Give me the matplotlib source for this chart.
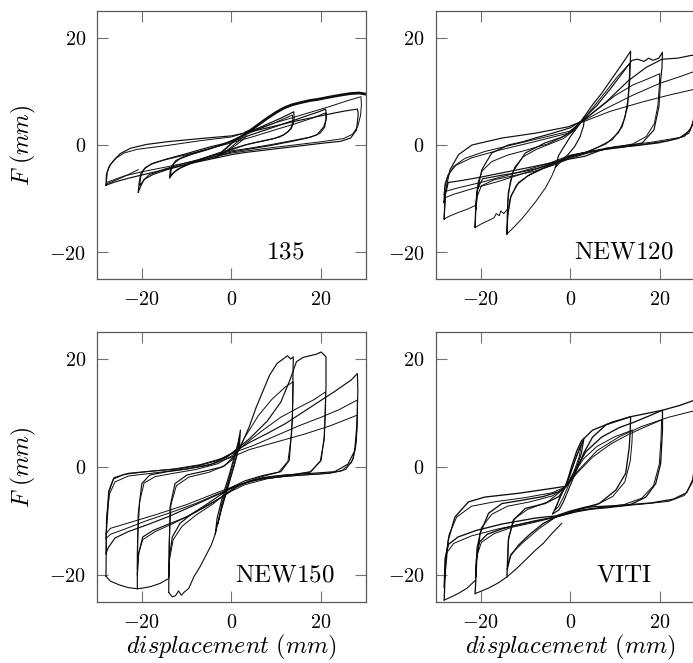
import matplotlib
matplotlib.use('Agg')
import matplotlib.pyplot as plt

plt.rcParams['mathtext.fontset'] = 'cm'
plt.rcParams['font.family'] = 'serif'
plt.rcParams['font.serif'] = ['DejaVu Serif']

# --- 135 ---
s135_small_x = [-3.5, -2.6, -1.2, 0.4, 1.8, 3.0, 3.3, 2.6, 1.2, -0.4, -1.9, -3.0, -3.5]
s135_small_y = [-2.3, -1.6, -0.7, 0.5, 1.4, 2.1, 1.7, 1.0, 0.1, -0.8, -1.6, -2.1, -2.3]
s135_small2_x = [-3.0, -2.0, -0.5, 1.0, 2.5, 3.0, 2.2, 0.8, -0.8, -2.2, -3.0]
s135_small2_y = [-2.0, -1.1, 0.0, 1.0, 1.9, 2.0, 1.2, 0.2, -0.9, -1.7, -2.0]
s135_env_x = [3.2, 4.2, 6.0, 8.0, 10.0, 11.7, 13.5, 15.4, 17.5, 19.2, 21.0, 22.9, 25.0, 26.6, 28.5, 29.9]
s135_env_y = [2.3, 2.7, 3.8, 5.0, 6.1, 6.9, 7.5, 7.9, 8.3, 8.5, 8.8, 9.1, 9.4, 9.6, 9.7, 9.5]
s135_neg_x = [-20.8, -22.5, -24.5, -26.5, -28.0]
s135_neg_y = [-4.6, -5.3, -6.1, -6.8, -7.3]
s135_c14_x = [-13.8, -13.7, -13.3, -12.4, -10.5, -7.0, -3.0, 0.0, 4.2, 8.0, 11.0, 13.2, 13.9,
              14.0, 13.8, 13.3, 11.7, 9.5, 6.0, 3.0, 0.0, -3.5, -6.9, -9.5, -11.4, -12.8, -13.8]
s135_c14_y = [-6.1, -5.0, -3.9, -2.9, -2.1, -1.2, -0.2, 0.8, 2.5, 3.9, 5.0, 5.9, 6.2,
              5.2, 4.0, 3.0, 1.9, 1.2, 0.6, 0.0, -0.9, -1.8, -2.7, -3.6, -4.3, -5.1, -6.1]
s135_c14b_x = [-13.6, -13.4, -12.8, -11.5, -9.0, -5.0, -1.5, 1.5, 5.0, 9.0, 12.0, 13.6,
               13.7, 13.4, 12.6, 10.8, 8.0, 4.0, 0.5, -3.0, -6.5, -9.5, -12.0, -13.6]
s135_c14b_y = [-5.6, -4.4, -3.4, -2.6, -1.8, -0.8, 0.2, 1.3, 2.6, 3.9, 5.0, 5.6,
               4.6, 3.4, 2.4, 1.5, 0.9, 0.2, -0.6, -1.5, -2.5, -3.4, -4.5, -5.6]
s135_c21_x = [-20.8, -20.6, -20.2, -19.2, -17.5, -14.4, -10.0, -5.0, 0.0, 4.0, 9.0, 13.9, 17.0, 19.5, 21.0,
              21.2, 21.2, 20.6, 19.1, 16.9, 13.0, 8.0, 3.0, 0.0, -5.0, -10.0, -14.4, -17.5, -19.5, -20.2, -20.8]
s135_c21_y = [-8.8, -7.0, -5.3, -4.2, -3.4, -2.6, -1.6, -0.4, 0.6, 1.8, 3.2, 4.6, 5.5, 6.2, 6.7,
              5.8, 5.0, 3.4, 1.9, 1.3, 0.6, -0.2, -0.9, -1.3, -2.5, -3.6, -4.6, -5.5, -6.4, -7.6, -8.8]
s135_c21b_x = [-20.5, -20.2, -19.5, -18.0, -15.0, -10.0, -5.0, 0.0, 5.0, 10.0, 14.0, 18.0, 21.0,
               21.1, 20.8, 19.8, 17.8, 14.0, 9.0, 4.0, 0.0, -5.0, -10.0, -15.0, -18.5, -20.5]
s135_c21b_y = [-7.5, -5.8, -4.5, -3.6, -2.8, -1.8, -0.7, 0.4, 1.6, 2.9, 3.9, 5.0, 6.0,
               4.6, 3.3, 2.2, 1.5, 0.9, 0.1, -0.6, -1.1, -2.2, -3.3, -4.5, -5.6, -7.5]
s135_c28_x = [-28.0, -27.9, -27.3, -26.2, -24.8, -22.5, -19.0, -14.4, -7.0, 0.0, 5.0, 10.0, 14.0, 18.0, 22.0, 25.0, 28.1,
              28.3, 28.2, 27.9, 26.6, 24.4, 20.0, 14.0, 8.0, 3.0, 0.0, -5.0, -10.0, -14.4, -19.0, -23.0, -26.0, -28.0]
s135_c28_y = [-7.5, -5.5, -4.0, -2.8, -1.6, -0.6, 0.1, 0.6, 1.2, 1.7, 2.6, 3.6, 4.4, 5.1, 5.8, 6.3, 6.7,
              5.8, 5.0, 2.8, 1.3, 0.7, 0.3, -0.3, -0.9, -1.4, -1.8, -2.7, -3.6, -4.5, -5.4, -6.2, -6.9, -7.5]
s135_c28b_x = [-27.9, -27.7, -27.0, -25.8, -24.0, -21.0, -14.4, -7.0, 0.0, 5.0, 10.0, 14.0, 18.0, 22.0, 26.0, 28.9,
               29.0, 28.8, 28.2, 27.0, 25.0, 20.0, 14.0, 7.0, 0.0, -7.0, -14.0, -20.0, -24.0, -27.9]
s135_c28b_y = [-7.0, -5.0, -3.6, -2.5, -1.5, -0.8, -0.1, 0.8, 1.5, 2.8, 4.2, 5.2, 6.2, 7.2, 8.3, 9.0,
               7.5, 5.5, 3.5, 2.0, 1.2, 0.6, 0.0, -0.7, -1.5, -2.8, -4.0, -5.0, -5.8, -7.0]

# --- NEW120 ---
n120_small_x = [-3.3, -2.6, -1.5, 0.0, 1.5, 2.5, 3.2, 3.0, 2.2, 1.0, -0.5, -2.0, -3.3]
n120_small_y = [-4.2, -2.0, -0.5, 1.5, 3.2, 4.4, 5.3, 3.6, 1.5, -0.3, -1.8, -3.0, -4.2]
n120_env_x = [-3.3, -4.1, -5.5, -7.8, -10.5, -12.5, -14.1]
n120_env_y = [-4.2, -5.8, -8.0, -10.7, -13.5, -15.3, -16.6]
n120_env2_x = [-14.0, -14.8, -15.5, -15.8, -16.5, -17.0, -18.5, -20.0, -21.2]
n120_env2_y = [-12.0, -12.8, -12.3, -13.2, -12.8, -13.6, -14.2, -14.8, -15.4]
n120_env3_x = [-21.2, -23.0, -25.0, -27.0, -28.1]
n120_env3_y = [-11.3, -12.0, -12.6, -13.3, -13.8]
n120_c14_x = [-14.1, -14.0, -13.8, -12.7, -10.0, -5.6, -2.0, 0.5, 2.4, 5.0, 7.0, 9.5, 11.5, 13.5,
              13.4, 13.3, 12.8, 11.6, 9.4, 6.5, 3.0, 0.0, -3.2, -6.0, -9.0, -11.5, -13.2, -13.9, -14.1]
n120_c14_y = [-16.6, -12.6, -8.9, -4.9, -1.5, 0.4, 1.4, 2.6, 4.4, 7.5, 9.6, 12.6, 15.0, 17.5,
              14.5, 12.1, 7.1, 3.4, 1.0, -0.3, -1.6, -2.3, -3.3, -4.3, -5.5, -7.0, -9.5, -13.0, -16.6]
n120_c14b_x = [-14.0, -13.9, -13.4, -12.4, -10.5, -7.5, -4.5, -1.5, 1.0, 2.6, 5.5, 8.0, 10.5, 13.3,
               13.2, 12.9, 12.2, 10.8, 8.0, 4.0, 0.0, -3.2, -6.5, -9.5, -12.0, -13.4, -14.0]
n120_c14b_y = [-13.5, -10.5, -7.0, -4.2, -2.2, -0.8, 0.2, 1.2, 2.8, 4.4, 7.4, 10.0, 12.7, 15.2,
               12.5, 8.5, 5.0, 2.3, 0.2, -1.2, -2.2, -3.4, -4.6, -5.8, -7.5, -10.0, -13.5]
n120_c21_x = [-21.2, -21.1, -20.8, -19.7, -17.5, -13.8, -10.6, -7.8, -3.9, 0.0, 2.4, 6.0, 9.0, 12.0,
              13.8, 15.0, 16.5, 17.5, 18.5, 19.8, 20.6,
              20.5, 20.2, 19.8, 18.7, 16.1, 12.0, 8.0, 4.0, 0.0, -3.2, -7.0, -10.6, -15.0, -19.5, -20.6, -21.0, -21.2]
n120_c21_y = [-15.4, -12.0, -8.9, -4.6, -1.5, 0.0, 0.6, 1.3, 2.2, 3.2, 4.4, 7.4, 10.5, 13.8,
              15.8, 16.0, 15.6, 16.2, 15.8, 16.2, 17.3,
              14.5, 12.1, 7.1, 2.8, 0.4, -0.4, -0.8, -1.3, -2.0, -3.3, -4.3, -5.0, -5.6, -6.3, -8.0, -11.0, -15.4]
n120_c21b_x = [-21.0, -20.9, -20.5, -19.6, -17.5, -14.0, -10.0, -5.0, -1.0, 2.4, 6.0, 10.0, 14.0, 17.5, 20.0,
               19.9, 19.6, 18.8, 17.0, 14.0, 9.0, 4.0, 0.0, -3.5, -8.0, -13.0, -17.0, -19.8, -20.7, -21.0]
n120_c21b_y = [-12.0, -9.3, -6.8, -4.8, -3.1, -1.9, -1.0, 0.2, 1.8, 4.2, 6.6, 9.2, 11.2, 12.4, 13.3,
               11.0, 7.5, 4.0, 1.6, 0.2, -0.6, -1.5, -2.5, -3.7, -4.9, -5.8, -6.5, -7.6, -9.5, -12.0]
n120_c28_x = [-28.1, -27.9, -26.8, -24.9, -21.9, -15.2, -7.8, -0.4, 2.6, 8.0, 13.0, 17.0, 20.5, 24.0, 26.9, 28.3,
              28.3, 28.2, 27.8, 26.5, 24.0, 19.8, 14.0, 8.0, 3.3, 0.0, -4.1, -8.0, -15.2, -20.0, -24.0, -27.2, -27.9, -28.1]
n120_c28_y = [-13.8, -8.9, -4.6, -1.8, 0.0, 1.3, 2.2, 3.4, 4.4, 8.0, 12.0, 14.5, 16.0, 16.2, 16.7, 16.8,
              14.0, 10.0, 5.0, 2.2, 1.2, 0.4, -0.2, -0.6, -2.1, -2.6, -3.3, -4.0, -5.2, -6.0, -6.6, -7.0, -9.5, -13.8]
n120_c28b_x = [-28.2, -28.0, -27.4, -26.0, -23.5, -19.0, -14.0, -7.0, 0.0, 2.5, 8.0, 14.0, 20.0, 25.0, 28.3,
               28.3, 28.0, 27.2, 25.5, 22.0, 16.0, 10.0, 4.0, 0.0, -4.0, -10.0, -16.0, -22.0, -26.0, -27.8, -28.2]
n120_c28b_y = [-10.7, -8.0, -6.0, -4.0, -2.5, -1.2, -0.2, 1.2, 2.6, 4.3, 6.8, 9.3, 11.5, 12.9, 13.9,
               11.0, 7.0, 3.5, 1.6, 0.8, 0.1, -0.5, -1.3, -2.1, -3.4, -5.2, -6.8, -8.2, -9.2, -9.8, -10.7]
n120_c28c_x = [-28.1, -27.9, -27.2, -25.5, -22.0, -16.0, -8.0, 0.0, 2.5, 9.0, 16.0, 22.0, 28.3,
               28.2, 27.8, 26.8, 24.5, 18.0, 10.0, 0.0, -5.0, -12.0, -20.0, -25.0, -27.6, -28.1]
n120_c28c_y = [-9.2, -7.2, -5.5, -3.8, -2.4, -1.0, 0.6, 2.3, 4.2, 6.3, 8.0, 9.3, 10.5,
               8.2, 5.2, 2.8, 1.4, 0.5, -0.3, -1.9, -3.5, -5.2, -7.0, -8.0, -8.6, -9.2]

# --- NEW150 ---
n150_small_x = [-3.6, -3.2, -2.0, -0.5, 0.5, 1.5, 2.0, 1.8, 1.0, 0.0, -1.2, -2.5, -3.6]
n150_small_y = [-12.4, -9.5, -5.5, -1.5, 1.5, 4.5, 6.8, 4.2, 1.5, -1.5, -5.0, -8.5, -12.4]
n150_small2_x = [-3.0, -2.2, -1.0, 0.2, 1.2, 1.8, 1.5, 0.6, -0.6, -1.8, -3.0]
n150_small2_y = [-10.5, -7.0, -3.5, 0.0, 3.0, 5.5, 3.0, 0.2, -3.0, -6.5, -10.5]
n150_env_x = [-3.6, -4.5, -5.5, -7.0, -8.4, -9.5, -10.5, -11.2, -11.8, -12.5, -13.2, -14.0]
n150_env_y = [-12.4, -14.5, -16.1, -18.5, -20.4, -22.5, -23.2, -23.8, -23.0, -23.9, -24.1, -23.3]
n150_env2_x = [-14.0, -15.9, -18.0, -20.0, -21.0, -23.0, -25.0, -27.0, -28.0]
n150_env2_y = [-20.7, -21.6, -22.2, -22.5, -22.6, -22.4, -21.9, -21.2, -20.3]
n150_c14_x = [-14.0, -13.9, -13.7, -12.6, -9.9, -6.0, -2.0, 0.0, 2.0, 4.0, 5.5, 7.0, 8.5, 10.2, 11.7, 12.5, 13.2, 13.8,
              13.7, 13.6, 12.9, 11.0, 7.0, 3.0, 0.0, -3.0, -6.0, -9.0, -11.5, -13.2, -13.8, -14.0]
n150_c14_y = [-23.3, -16.1, -7.4, -3.1, -1.5, -0.8, 0.0, 1.2, 3.7, 7.5, 11.0, 14.0, 17.0, 19.2, 20.1, 20.6, 20.0, 20.4,
              16.0, 8.7, 1.2, -0.9, -1.6, -2.6, -3.8, -5.5, -7.2, -8.8, -10.5, -13.0, -16.5, -20.4]
n150_c14b_x = [-14.0, -13.9, -13.5, -12.3, -9.5, -5.0, -1.5, 1.0, 3.0, 6.0, 9.0, 12.0, 13.8,
               13.7, 13.4, 12.6, 10.5, 6.0, 2.0, -1.0, -4.0, -8.0, -11.0, -13.0, -13.8, -14.0]
n150_c14b_y = [-20.4, -14.0, -7.0, -3.5, -1.9, -1.0, 0.2, 2.5, 5.5, 9.5, 12.5, 14.8, 15.8,
               12.0, 6.0, 1.0, -1.0, -2.0, -3.3, -4.8, -6.8, -9.0, -11.0, -13.5, -17.0, -20.4]
n150_c21_x = [-21.0, -21.0, -20.8, -20.0, -18.2, -14.4, -10.0, -5.0, -1.0, 1.0, 4.0, 8.0, 11.0, 13.0, 14.5,
              16.0, 17.5, 19.0, 20.0, 21.1,
              21.1, 20.7, 20.0, 17.7, 14.0, 9.0, 4.0, 1.0, -2.0, -6.0, -10.0, -14.0, -17.5, -19.8, -20.7, -21.0]
n150_c21_y = [-22.6, -16.1, -8.7, -3.1, -1.5, -0.9, -0.4, 0.3, 1.8, 3.2, 5.2, 8.5, 12.0, 16.0, 19.5,
              20.3, 20.6, 20.9, 21.3, 20.4,
              14.8, 5.6, 1.2, -0.9, -1.4, -1.8, -2.6, -3.8, -5.5, -7.5, -9.3, -10.6, -11.8, -13.0, -16.0, -20.0]
n150_c21b_x = [-21.0, -20.9, -20.5, -19.5, -17.0, -13.0, -8.0, -3.0, 0.0, 3.0, 7.0, 11.0, 15.0, 18.5, 21.0,
               21.0, 20.7, 19.8, 17.5, 13.0, 8.0, 3.0, 0.0, -4.0, -9.0, -13.0, -17.0, -19.8, -20.7, -21.0]
n150_c21b_y = [-18.9, -13.0, -6.5, -3.0, -1.8, -1.2, -0.5, 0.6, 2.0, 4.2, 6.8, 9.2, 11.0, 12.5, 13.9,
               11.0, 5.0, 1.0, -1.0, -1.6, -2.2, -3.3, -4.5, -6.5, -8.8, -10.5, -12.0, -13.5, -16.0, -18.9]
n150_c28_x = [-28.0, -27.9, -27.3, -26.2, -23.0, -18.0, -12.0, -7.0, -3.0, 0.0, 4.0, 8.0, 12.0, 15.5, 19.0, 22.9, 26.7, 28.1,
              28.2, 28.0, 27.5, 26.0, 23.0, 18.0, 12.0, 7.0, 3.0, 0.0, -4.0, -8.0, -14.0, -19.0, -23.0, -26.0, -27.5, -28.0]
n150_c28_y = [-20.3, -12.0, -4.5, -2.0, -1.2, -0.8, -0.4, 0.3, 1.2, 2.5, 4.5, 6.2, 8.0, 9.9, 11.8, 13.9, 16.1, 17.3,
              14.0, 8.0, 3.0, 0.5, -0.9, -1.2, -1.5, -2.0, -3.0, -4.0, -5.5, -7.0, -9.2, -10.8, -12.0, -13.2, -15.0, -16.1]
n150_c28b_x = [-28.0, -27.9, -27.4, -26.4, -24.0, -19.0, -13.0, -7.0, -2.0, 1.0, 5.0, 10.0, 15.0, 20.0, 24.0, 28.1,
               28.1, 27.9, 27.2, 25.5, 22.0, 16.0, 10.0, 5.0, 1.0, -3.0, -8.0, -14.0, -19.0, -24.0, -27.0, -28.0]
n150_c28b_y = [-16.1, -10.0, -4.5, -2.3, -1.4, -0.9, -0.4, 0.4, 1.6, 2.8, 4.0, 5.8, 7.6, 9.2, 10.6, 12.4,
               9.5, 5.0, 1.5, -0.5, -1.2, -1.5, -1.9, -2.5, -3.6, -5.0, -6.8, -8.6, -10.0, -11.6, -12.5, -13.3]
n150_c28c_x = [-28.0, -27.8, -27.2, -26.0, -23.0, -17.0, -10.0, -4.0, 0.0, 4.0, 10.0, 16.0, 22.0, 28.1,
               28.0, 27.7, 26.8, 24.5, 20.0, 13.0, 7.0, 2.0, -3.0, -10.0, -17.0, -23.0, -27.0, -28.0]
n150_c28c_y = [-13.3, -9.0, -5.0, -2.8, -1.7, -1.1, -0.4, 0.6, 1.8, 3.2, 4.6, 6.0, 7.6, 9.6,
               7.0, 3.5, 0.8, -0.8, -1.3, -1.7, -2.2, -3.2, -4.7, -7.0, -8.9, -10.4, -11.4, -12.4]

# --- VITI ---
viti_small_x = [-3.9, -3.2, -2.2, -1.0, 0.0, 1.0, 2.0, 3.1, 2.5, 1.5, 0.5, -0.5, -1.5, -2.5, -3.9]
viti_small_y = [-8.7, -7.5, -5.5, -3.5, -1.5, 1.0, 3.2, 5.3, 2.5, 0.0, -2.5, -4.5, -6.5, -8.0, -8.7]
viti_small2_x = [-3.4, -2.4, -1.2, 0.0, 1.0, 2.0, 2.6, 2.0, 0.8, -0.4, -1.6, -2.6, -3.4]
viti_small2_y = [-8.0, -6.0, -3.8, -1.2, 1.0, 3.2, 4.4, 1.8, -1.0, -3.5, -5.8, -7.4, -8.0]
viti_env_x = [-1.9, -4.0, -6.0, -7.8, -10.0, -12.0, -14.1, -16.0, -18.0, -20.0, -21.2]
viti_env_y = [-10.5, -12.3, -14.2, -15.5, -17.3, -18.9, -20.4, -21.5, -22.4, -23.1, -23.5]
viti_env2_x = [-21.1, -23.0, -25.0, -27.0, -28.1]
viti_env2_y = [-21.0, -22.5, -23.5, -24.3, -24.7]
viti_c14_x = [-14.1, -13.8, -12.7, -10.0, -5.6, -2.5, -1.0, 0.3, 1.5, 2.5, 5.0, 9.4, 13.5,
              13.4, 13.2, 12.4, 10.2, 6.5, 3.0, 0.0, -3.2, -6.0, -9.0, -11.5, -13.3, -14.0]
viti_c14_y = [-20.4, -13.6, -9.9, -7.7, -6.8, -5.5, -3.7, 0.0, 3.0, 4.8, 6.8, 8.3, 9.3,
              6.5, 3.7, -1.2, -4.3, -6.8, -7.6, -8.4, -9.3, -10.5, -12.5, -14.5, -16.5, -18.9]
viti_c14b_x = [-14.0, -13.7, -12.4, -9.5, -5.0, -1.0, 1.0, 3.0, 6.0, 10.0, 13.9,
               13.8, 13.4, 12.2, 9.5, 5.5, 1.0, -3.2, -7.0, -10.5, -13.2, -14.0]
viti_c14b_y = [-18.9, -13.0, -9.6, -7.9, -6.5, -3.8, -1.0, 1.5, 3.8, 5.6, 6.8,
               4.5, 1.0, -2.8, -5.5, -7.2, -8.1, -9.3, -11.5, -14.0, -16.2, -18.5]
viti_c21_x = [-21.2, -20.8, -20.1, -18.2, -15.2, -10.8, -6.0, -2.5, -1.0, 1.0, 3.5, 7.0, 11.0, 14.0, 17.5, 20.6,
              20.6, 20.2, 19.1, 16.9, 13.2, 8.0, 3.3, 0.0, -3.2, -7.8, -12.0, -15.2, -18.5, -20.3, -20.9, -21.1]
viti_c21_y = [-23.5, -16.7, -12.4, -8.6, -6.8, -6.2, -5.5, -4.6, -3.7, -0.8, 2.8, 5.5, 7.3, 8.2, 9.4, 10.5,
              6.8, 0.6, -3.1, -5.6, -7.1, -7.6, -7.9, -8.6, -9.3, -10.0, -10.8, -11.5, -12.5, -14.0, -17.0, -20.5]
viti_c21b_x = [-21.1, -20.8, -19.8, -17.5, -14.0, -9.0, -4.0, -1.0, 1.5, 5.0, 9.0, 13.0, 17.0, 20.4,
               20.3, 19.9, 18.6, 16.0, 12.0, 6.0, 1.0, -3.2, -8.0, -13.0, -17.0, -19.8, -20.8, -21.1]
viti_c21b_y = [-20.5, -15.0, -11.3, -8.8, -7.3, -6.5, -5.4, -3.8, -1.2, 1.8, 4.2, 6.0, 7.5, 8.7,
               5.5, 0.5, -3.5, -5.8, -7.0, -7.7, -8.4, -9.3, -10.3, -11.2, -12.4, -14.0, -16.5, -20.0]
viti_c28_x = [-28.1, -27.9, -27.2, -25.7, -22.7, -19.0, -11.5, -4.1, -1.0, 1.0, 3.0, 5.0, 8.0, 13.5, 20.6, 24.5, 28.2,
              28.3, 28.2, 27.6, 26.0, 23.0, 18.0, 10.0, 3.3, 0.0, -3.2, -7.8, -15.2, -21.0, -25.0, -27.2, -27.9, -28.1]
viti_c28_y = [-24.7, -19.8, -13.6, -9.3, -6.5, -5.6, -4.9, -4.0, -3.6, -1.5, 2.5, 5.5, 7.8, 9.3, 10.5, 11.4, 12.5,
              9.0, 3.0, -2.0, -4.8, -6.0, -6.7, -7.2, -7.5, -8.2, -9.1, -9.5, -10.6, -11.8, -13.0, -14.4, -17.0, -22.3]
viti_c28b_x = [-28.1, -27.8, -27.0, -25.3, -22.0, -17.0, -10.0, -4.0, -1.0, 2.0, 6.0, 11.0, 16.0, 22.0, 28.2,
               28.2, 28.0, 27.2, 25.5, 22.0, 15.0, 7.0, 1.0, -3.2, -9.0, -16.0, -22.0, -26.0, -27.6, -28.0]
viti_c28b_y = [-22.3, -17.0, -12.5, -9.3, -7.3, -6.5, -5.7, -4.8, -3.7, -0.5, 3.0, 5.6, 7.5, 9.2, 10.5,
               7.0, 1.5, -3.0, -5.3, -6.4, -7.0, -7.5, -8.2, -9.3, -10.3, -11.5, -12.8, -14.2, -16.0, -20.7]

tick_vals = [-20, 0, 20]
tick_text = [r'$-20$', r'$0$', r'$20$']
panel_names = ['135', 'NEW120', 'NEW150', 'VITI']

# кривые по панелям (x, y, толщина)
curves = {
    '135': [(s135_small_x, s135_small_y, 0.7), (s135_small2_x, s135_small2_y, 0.7),
            (s135_neg_x, s135_neg_y, 0.7),
            (s135_c14_x, s135_c14_y, 0.85), (s135_c14b_x, s135_c14b_y, 0.7),
            (s135_c21_x, s135_c21_y, 0.85), (s135_c21b_x, s135_c21b_y, 0.7),
            (s135_c28_x, s135_c28_y, 0.85), (s135_c28b_x, s135_c28b_y, 0.7),
            (s135_env_x, s135_env_y, 2.0)],
    'NEW120': [(n120_small_x, n120_small_y, 0.85),
               (n120_env_x, n120_env_y, 0.7), (n120_env2_x, n120_env2_y, 0.7),
               (n120_env3_x, n120_env3_y, 0.7),
               (n120_c14_x, n120_c14_y, 0.85), (n120_c14b_x, n120_c14b_y, 0.7),
               (n120_c21_x, n120_c21_y, 0.85), (n120_c21b_x, n120_c21b_y, 0.7),
               (n120_c28_x, n120_c28_y, 0.85), (n120_c28b_x, n120_c28b_y, 0.7),
               (n120_c28c_x, n120_c28c_y, 0.7)],
    'NEW150': [(n150_small_x, n150_small_y, 0.85), (n150_small2_x, n150_small2_y, 0.7),
               (n150_env_x, n150_env_y, 0.8), (n150_env2_x, n150_env2_y, 0.8),
               (n150_c14_x, n150_c14_y, 0.85), (n150_c14b_x, n150_c14b_y, 0.7),
               (n150_c21_x, n150_c21_y, 0.85), (n150_c21b_x, n150_c21b_y, 0.7),
               (n150_c28_x, n150_c28_y, 0.85), (n150_c28b_x, n150_c28b_y, 0.7),
               (n150_c28c_x, n150_c28c_y, 0.7)],
    'VITI': [(viti_small_x, viti_small_y, 0.85), (viti_small2_x, viti_small2_y, 0.7),
             (viti_env_x, viti_env_y, 0.8), (viti_env2_x, viti_env2_y, 0.8),
             (viti_c14_x, viti_c14_y, 0.95), (viti_c14b_x, viti_c14b_y, 0.7),
             (viti_c21_x, viti_c21_y, 0.95), (viti_c21b_x, viti_c21b_y, 0.7),
             (viti_c28_x, viti_c28_y, 0.95), (viti_c28b_x, viti_c28b_y, 0.7)],
}

fig = plt.figure(figsize=(6.93, 6.63), dpi=100)

# правые панели уходят за край картинки
positions = [[0.140, 0.5792, 0.388, 0.4042],
             [0.6287, 0.5792, 0.388, 0.4042],
             [0.140, 0.0925, 0.388, 0.4067],
             [0.6287, 0.0925, 0.388, 0.4067]]

for i, name in enumerate(panel_names):
    ax = fig.add_axes(positions[i])
    for x, y, lw in curves[name]:
        ax.plot(x, y, color='0.05', lw=lw, solid_joinstyle='round')

    ax.set_xlim(-30, 30)
    ax.set_ylim(-25, 25)
    ax.set_xticks(tick_vals)
    ax.set_xticklabels(tick_text)
    ax.set_yticks(tick_vals)
    ax.set_yticklabels(tick_text)
    ax.tick_params(direction='in', top=True, right=True, length=8, width=0.8,
                   color='0.45', labelsize=14.5, pad=8)
    for sp in ax.spines.values():
        sp.set_color('0.35')
        sp.set_linewidth(0.9)

    ax.text(12, -20, r'$\mathrm{' + name + '}$', fontsize=18, ha='center', va='center')

    if i % 2 == 0:
        ax.set_ylabel(r'$F\ (mm)$', fontsize=17)
        ax.yaxis.set_label_coords(-0.275, 0.5)
        ax.yaxis.label.set_va('center')
    if i >= 2:
        ax.set_xlabel(r'$displacement\ (mm)$', fontsize=17.5)
        ax.xaxis.set_label_coords(0.5, -0.168)
        ax.xaxis.label.set_va('center')

plt.savefig('out.png', dpi=100)
